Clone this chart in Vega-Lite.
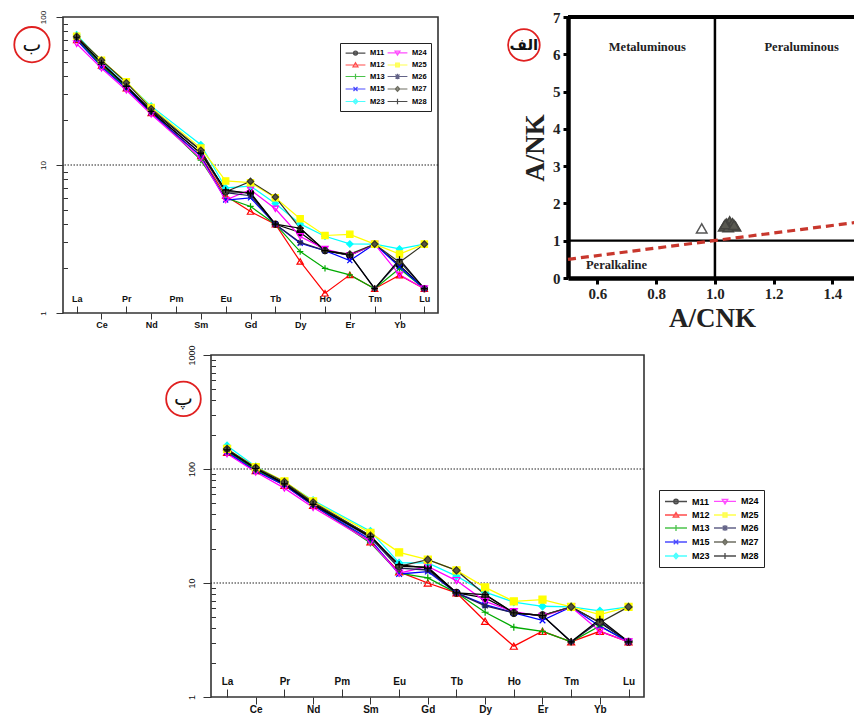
{
  "$schema": "https://vega.github.io/schema/vega-lite/v6.json",
  "background": "white",
  "padding": {"left": 9, "top": 9, "right": 0, "bottom": 0},
  "config": {
    "view": {"stroke": "#333333", "strokeWidth": 1.6},
    "font": "Liberation Sans",
    "axis": {"grid": false, "labelFont": "Liberation Sans", "labelFontWeight": "bold", "tickColor": "#333333", "labelColor": "#111111"}
  },
  "datasets": {
    "b": [
      {"s":"M11","z":57,"v":73},{"s":"M11","z":58,"v":48},{"s":"M11","z":59,"v":34},{"s":"M11","z":60,"v":23.5},{"s":"M11","z":62,"v":12.5},{"s":"M11","z":63,"v":6.6},{"s":"M11","z":64,"v":6.5},{"s":"M11","z":65,"v":3.98},{"s":"M11","z":66,"v":3.5},{"s":"M11","z":67,"v":2.64},{"s":"M11","z":68,"v":2.45},{"s":"M11","z":69,"v":2.92},{"s":"M11","z":70,"v":2.1},{"s":"M11","z":71,"v":1.46},
      {"s":"M12","z":57,"v":70},{"s":"M12","z":58,"v":47},{"s":"M12","z":59,"v":33},{"s":"M12","z":60,"v":22.5},{"s":"M12","z":62,"v":11.5},{"s":"M12","z":63,"v":6.2},{"s":"M12","z":64,"v":4.85},{"s":"M12","z":65,"v":3.98},{"s":"M12","z":66,"v":2.23},{"s":"M12","z":67,"v":1.36},{"s":"M12","z":68,"v":1.81},{"s":"M12","z":69,"v":1.46},{"s":"M12","z":70,"v":1.8},{"s":"M12","z":71,"v":1.46},
      {"s":"M13","z":57,"v":71},{"s":"M13","z":58,"v":47},{"s":"M13","z":59,"v":33.5},{"s":"M13","z":60,"v":23},{"s":"M13","z":62,"v":10.8},{"s":"M13","z":63,"v":6.0},{"s":"M13","z":64,"v":5.25},{"s":"M13","z":65,"v":3.98},{"s":"M13","z":66,"v":2.6},{"s":"M13","z":67,"v":2.0},{"s":"M13","z":68,"v":1.81},{"s":"M13","z":69,"v":1.46},{"s":"M13","z":70,"v":2.0},{"s":"M13","z":71,"v":1.46},
      {"s":"M15","z":57,"v":70},{"s":"M15","z":58,"v":46},{"s":"M15","z":59,"v":33},{"s":"M15","z":60,"v":22.5},{"s":"M15","z":62,"v":11.5},{"s":"M15","z":63,"v":5.8},{"s":"M15","z":64,"v":6.0},{"s":"M15","z":65,"v":3.98},{"s":"M15","z":66,"v":2.96},{"s":"M15","z":67,"v":2.64},{"s":"M15","z":68,"v":2.26},{"s":"M15","z":69,"v":2.92},{"s":"M15","z":70,"v":2.05},{"s":"M15","z":71,"v":1.46},
      {"s":"M23","z":57,"v":76},{"s":"M23","z":58,"v":50},{"s":"M23","z":59,"v":36},{"s":"M23","z":60,"v":25},{"s":"M23","z":62,"v":13.7},{"s":"M23","z":63,"v":7.0},{"s":"M23","z":64,"v":7.2},{"s":"M23","z":65,"v":5.5},{"s":"M23","z":66,"v":4.0},{"s":"M23","z":67,"v":3.3},{"s":"M23","z":68,"v":2.93},{"s":"M23","z":69,"v":2.92},{"s":"M23","z":70,"v":2.71},{"s":"M23","z":71,"v":2.92},
      {"s":"M24","z":57,"v":66},{"s":"M24","z":58,"v":45},{"s":"M24","z":59,"v":32},{"s":"M24","z":60,"v":22},{"s":"M24","z":62,"v":11.1},{"s":"M24","z":63,"v":5.8},{"s":"M24","z":64,"v":6.8},{"s":"M24","z":65,"v":5.06},{"s":"M24","z":66,"v":3.29},{"s":"M24","z":67,"v":2.7},{"s":"M24","z":68,"v":2.45},{"s":"M24","z":69,"v":2.92},{"s":"M24","z":70,"v":1.81},{"s":"M24","z":71,"v":1.46},
      {"s":"M25","z":57,"v":74},{"s":"M25","z":58,"v":51},{"s":"M25","z":59,"v":36.5},{"s":"M25","z":60,"v":24.5},{"s":"M25","z":62,"v":13},{"s":"M25","z":63,"v":7.8},{"s":"M25","z":64,"v":7.6},{"s":"M25","z":65,"v":6.0},{"s":"M25","z":66,"v":4.33},{"s":"M25","z":67,"v":3.34},{"s":"M25","z":68,"v":3.4},{"s":"M25","z":69,"v":2.92},{"s":"M25","z":70,"v":2.5},{"s":"M25","z":71,"v":2.92},
      {"s":"M26","z":57,"v":72},{"s":"M26","z":58,"v":49},{"s":"M26","z":59,"v":34.5},{"s":"M26","z":60,"v":23},{"s":"M26","z":62,"v":12},{"s":"M26","z":63,"v":6.5},{"s":"M26","z":64,"v":6.2},{"s":"M26","z":65,"v":3.98},{"s":"M26","z":66,"v":3.0},{"s":"M26","z":67,"v":2.64},{"s":"M26","z":68,"v":2.47},{"s":"M26","z":69,"v":1.46},{"s":"M26","z":70,"v":2.23},{"s":"M26","z":71,"v":1.46},
      {"s":"M27","z":57,"v":74},{"s":"M27","z":58,"v":51},{"s":"M27","z":59,"v":36},{"s":"M27","z":60,"v":24},{"s":"M27","z":62,"v":12.6},{"s":"M27","z":63,"v":6.6},{"s":"M27","z":64,"v":7.75},{"s":"M27","z":65,"v":6.07},{"s":"M27","z":66,"v":3.74},{"s":"M27","z":67,"v":2.64},{"s":"M27","z":68,"v":2.5},{"s":"M27","z":69,"v":2.92},{"s":"M27","z":70,"v":2.2},{"s":"M27","z":71,"v":2.92},
      {"s":"M28","z":57,"v":73},{"s":"M28","z":58,"v":49},{"s":"M28","z":59,"v":34},{"s":"M28","z":60,"v":23},{"s":"M28","z":62,"v":12},{"s":"M28","z":63,"v":6.8},{"s":"M28","z":64,"v":6.4},{"s":"M28","z":65,"v":3.98},{"s":"M28","z":66,"v":3.74},{"s":"M28","z":67,"v":2.64},{"s":"M28","z":68,"v":2.47},{"s":"M28","z":69,"v":1.46},{"s":"M28","z":70,"v":2.3},{"s":"M28","z":71,"v":1.46}
    ],
    "c": [
      {"s":"M11","z":57,"v":145},{"s":"M11","z":58,"v":100},{"s":"M11","z":59,"v":76},{"s":"M11","z":60,"v":50},{"s":"M11","z":62,"v":26},{"s":"M11","z":63,"v":14},{"s":"M11","z":64,"v":13.8},{"s":"M11","z":65,"v":8.2},{"s":"M11","z":66,"v":7.4},{"s":"M11","z":67,"v":5.47},{"s":"M11","z":68,"v":5.2},{"s":"M11","z":69,"v":6.17},{"s":"M11","z":70,"v":4.5},{"s":"M11","z":71,"v":3.05},
      {"s":"M12","z":57,"v":140},{"s":"M12","z":58,"v":97},{"s":"M12","z":59,"v":72},{"s":"M12","z":60,"v":48},{"s":"M12","z":62,"v":23},{"s":"M12","z":63,"v":12.5},{"s":"M12","z":64,"v":10.0},{"s":"M12","z":65,"v":8.2},{"s":"M12","z":66,"v":4.62},{"s":"M12","z":67,"v":2.79},{"s":"M12","z":68,"v":3.77},{"s":"M12","z":69,"v":3.05},{"s":"M12","z":70,"v":3.77},{"s":"M12","z":71,"v":3.05},
      {"s":"M13","z":57,"v":142},{"s":"M13","z":58,"v":98},{"s":"M13","z":59,"v":73},{"s":"M13","z":60,"v":49},{"s":"M13","z":62,"v":22.5},{"s":"M13","z":63,"v":12.2},{"s":"M13","z":64,"v":11.1},{"s":"M13","z":65,"v":8.2},{"s":"M13","z":66,"v":5.54},{"s":"M13","z":67,"v":4.09},{"s":"M13","z":68,"v":3.77},{"s":"M13","z":69,"v":3.05},{"s":"M13","z":70,"v":4.2},{"s":"M13","z":71,"v":3.05},
      {"s":"M15","z":57,"v":140},{"s":"M15","z":58,"v":96},{"s":"M15","z":59,"v":72},{"s":"M15","z":60,"v":48},{"s":"M15","z":62,"v":24},{"s":"M15","z":63,"v":12.0},{"s":"M15","z":64,"v":12.6},{"s":"M15","z":65,"v":8.2},{"s":"M15","z":66,"v":6.46},{"s":"M15","z":67,"v":5.47},{"s":"M15","z":68,"v":4.7},{"s":"M15","z":69,"v":6.17},{"s":"M15","z":70,"v":4.18},{"s":"M15","z":71,"v":3.05},
      {"s":"M23","z":57,"v":160},{"s":"M23","z":58,"v":105},{"s":"M23","z":59,"v":77},{"s":"M23","z":60,"v":53},{"s":"M23","z":62,"v":28.5},{"s":"M23","z":63,"v":15},{"s":"M23","z":64,"v":15},{"s":"M23","z":65,"v":11.5},{"s":"M23","z":66,"v":8.3},{"s":"M23","z":67,"v":6.8},{"s":"M23","z":68,"v":6.25},{"s":"M23","z":69,"v":6.17},{"s":"M23","z":70,"v":5.7},{"s":"M23","z":71,"v":6.17},
      {"s":"M24","z":57,"v":136},{"s":"M24","z":58,"v":94},{"s":"M24","z":59,"v":68},{"s":"M24","z":60,"v":46},{"s":"M24","z":62,"v":23},{"s":"M24","z":63,"v":12.2},{"s":"M24","z":64,"v":14},{"s":"M24","z":65,"v":10.5},{"s":"M24","z":66,"v":6.9},{"s":"M24","z":67,"v":5.6},{"s":"M24","z":68,"v":5.1},{"s":"M24","z":69,"v":6.17},{"s":"M24","z":70,"v":3.77},{"s":"M24","z":71,"v":3.05},
      {"s":"M25","z":57,"v":150},{"s":"M25","z":58,"v":104},{"s":"M25","z":59,"v":78},{"s":"M25","z":60,"v":52},{"s":"M25","z":62,"v":27.5},{"s":"M25","z":63,"v":18.6},{"s":"M25","z":64,"v":16},{"s":"M25","z":65,"v":12.9},{"s":"M25","z":66,"v":9.16},{"s":"M25","z":67,"v":6.9},{"s":"M25","z":68,"v":7.15},{"s":"M25","z":69,"v":6.17},{"s":"M25","z":70,"v":5.28},{"s":"M25","z":71,"v":6.17},
      {"s":"M26","z":57,"v":148},{"s":"M26","z":58,"v":101},{"s":"M26","z":59,"v":74},{"s":"M26","z":60,"v":49},{"s":"M26","z":62,"v":25},{"s":"M26","z":63,"v":13.5},{"s":"M26","z":64,"v":13},{"s":"M26","z":65,"v":8.2},{"s":"M26","z":66,"v":6.3},{"s":"M26","z":67,"v":5.47},{"s":"M26","z":68,"v":5.18},{"s":"M26","z":69,"v":3.05},{"s":"M26","z":70,"v":4.62},{"s":"M26","z":71,"v":3.05},
      {"s":"M27","z":57,"v":150},{"s":"M27","z":58,"v":103},{"s":"M27","z":59,"v":77},{"s":"M27","z":60,"v":51},{"s":"M27","z":62,"v":26},{"s":"M27","z":63,"v":14},{"s":"M27","z":64,"v":16},{"s":"M27","z":65,"v":12.9},{"s":"M27","z":66,"v":7.9},{"s":"M27","z":67,"v":5.47},{"s":"M27","z":68,"v":5.2},{"s":"M27","z":69,"v":6.17},{"s":"M27","z":70,"v":4.5},{"s":"M27","z":71,"v":6.17},
      {"s":"M28","z":57,"v":147},{"s":"M28","z":58,"v":101},{"s":"M28","z":59,"v":74},{"s":"M28","z":60,"v":49},{"s":"M28","z":62,"v":25.5},{"s":"M28","z":63,"v":14.5},{"s":"M28","z":64,"v":13.5},{"s":"M28","z":65,"v":8.2},{"s":"M28","z":66,"v":7.9},{"s":"M28","z":67,"v":5.47},{"s":"M28","z":68,"v":5.18},{"s":"M28","z":69,"v":3.05},{"s":"M28","z":70,"v":4.8},{"s":"M28","z":71,"v":3.05}
    ]
  },
  "spacing": 13,
  "vconcat": [
    {
      "spacing": 130,
      "bounds": "flush",
      "hconcat": [
        {
          "width": 375,
          "height": 296,
          "layer": [
            {
              "data": {"values": [{"v": 10}]},
              "mark": {"type": "rule", "strokeDash": [1.5, 1.5], "strokeWidth": 1.2, "color": "#222222"},
              "encoding": {"y": {"field": "v", "type": "quantitative", "axis": null, "scale": {"type": "log", "domain": [1, 100], "nice": false}}}
            },
            {
              "data": {"name": "b"},
              "mark": {"type": "line", "strokeWidth": 1.2},
              "encoding": {
                "x": {"field": "z", "type": "quantitative", "scale": {"domain": [56.45, 71.55], "nice": false, "zero": false},
                  "axis": {"orient": "bottom", "title": null, "domain": false, "values": [57, 59, 61, 63, 65, 67, 69, 71], "labelExpr": "['La','Ce','Pr','Nd','Pm','Sm','Eu','Gd','Tb','Dy','Ho','Er','Tm','Yb','Lu'][datum.value-57]", "tickSize": -7, "labelPadding": -3, "labelBaseline": "bottom", "labelFontSize": 9, "labelFlush": false}},
                "y": {"field": "v", "type": "quantitative", "scale": {"type": "log", "domain": [1, 100], "nice": false},
                  "axis": {"orient": "left", "title": null, "domain": false, "values": [1, 10, 100], "format": "d", "tickSize": 7, "labelAngle": 270, "labelAlign": "center", "labelBaseline": "bottom", "labelPadding": 9, "labelFontSize": 8, "labelFontWeight": "normal", "labelFlush": false}},
                "color": {"field": "s", "type": "nominal", "legend": null,
                  "scale": {"domain": ["M11","M12","M13","M15","M23","M24","M25","M26","M27","M28"], "range": ["#000000","#ff0000","#00aa00","#0000ff","#00ffff","#ff00ff","#ffff00","#222255","#333322","#000000"]}}
              }
            },
            {
              "data": {"name": "b"},
              "mark": {"type": "point", "filled": false, "strokeWidth": 1.2, "size": 40, "opacity": 1},
              "encoding": {
                "x": {"field": "z", "type": "quantitative", "scale": {"domain": [56.45, 71.55], "nice": false, "zero": false},
                  "axis": {"orient": "bottom", "title": null, "domain": false, "values": [58, 60, 62, 64, 66, 68, 70], "labelExpr": "['La','Ce','Pr','Nd','Pm','Sm','Eu','Gd','Tb','Dy','Ho','Er','Tm','Yb','Lu'][datum.value-57]", "tickSize": 6, "labelPadding": 1, "labelBaseline": "top", "labelFontSize": 9, "labelFlush": false}},
                "y": {"field": "v", "type": "quantitative", "scale": {"type": "log", "domain": [1, 100], "nice": false},
                  "axis": {"orient": "left", "title": null, "domain": false, "labels": false, "values": [2,3,4,5,6,7,8,9,20,30,40,50,60,70,80,90], "tickSize": -4.5}},
                "color": {"field": "s", "type": "nominal", "legend": null,
                  "scale": {"domain": ["M11","M12","M13","M15","M23","M24","M25","M26","M27","M28"], "range": ["#000000","#ff0000","#00aa00","#0000ff","#00ffff","#ff00ff","#ffff00","#222255","#333322","#000000"]}},
                "fill": {"field": "s", "type": "nominal", "legend": null,
                  "scale": {"domain": ["M11","M12","M13","M15","M23","M24","M25","M26","M27","M28"], "range": ["#000000","transparent","transparent","transparent","#00ffff","transparent","#ffff00","transparent","#555544","transparent"]}},
                "shape": {"field": "s", "type": "nominal", "legend": null,
                  "scale": {"domain": ["M11","M12","M13","M15","M23","M24","M25","M26","M27","M28"], "range": ["circle","triangle-up","M-1,0H1M0,-1V1","M-0.8,-0.8L0.8,0.8M-0.8,0.8L0.8,-0.8","diamond","triangle-down","square","M-1,0H1M0,-1V1M-0.7,-0.7L0.7,0.7M-0.7,0.7L0.7,-0.7","diamond","M-1,0H1M0,-1V1"]}}
              }
            },
            {
              "data": {"values": []},
              "mark": {"type": "point", "filled": false, "strokeWidth": 1.2},
              "encoding": {
                "color": {"field": "s", "type": "nominal",
                  "scale": {"domain": ["M11","M12","M13","M15","M23","M24","M25","M26","M27","M28"], "range": ["#000000","#ff0000","#00aa00","#0000ff","#00ffff","#ff00ff","#ffff00","#222255","#333322","#000000"]},
                  "legend": {"orient": "none", "legendX": 277, "legendY": 26, "columns": 2, "title": null, "strokeColor": "#222222", "padding": 4, "symbolSize": 81, "symbolStrokeWidth": 1.2, "symbolOffset": 6, "labelOffset": 9, "labelFontSize": 7.5, "labelFontWeight": "bold", "rowPadding": 1.5, "columnPadding": 0}},
                "fill": {"field": "s", "type": "nominal",
                  "scale": {"domain": ["M11","M12","M13","M15","M23","M24","M25","M26","M27","M28"], "range": ["#000000","transparent","transparent","transparent","#00ffff","transparent","#ffff00","transparent","#555544","transparent"]}},
                "shape": {"field": "s", "type": "nominal",
                  "scale": {"domain": ["M11","M12","M13","M15","M23","M24","M25","M26","M27","M28"], "range": [
                    "M-2.2,0H2.2M0.45,0A0.45,0.45,0,1,1,-0.45,0A0.45,0.45,0,1,1,0.45,0Z",
                    "M-2.2,0H2.2M-0.55,0.4L0.55,0.4L0,-0.5Z",
                    "M-2.2,0H2.2M0,-0.6V0.6",
                    "M-2.2,0H2.2M-0.45,-0.45L0.45,0.45M-0.45,0.45L0.45,-0.45",
                    "M-2.2,0H2.2M0,-0.55L0.5,0L0,0.55L-0.5,0Z",
                    "M-2.2,0H2.2M-0.55,-0.4L0.55,-0.4L0,0.5Z",
                    "M-2.2,0H2.2M-0.4,-0.4H0.4V0.4H-0.4Z",
                    "M-2.2,0H2.2M0,-0.6V0.6M-0.45,-0.45L0.45,0.45M-0.45,0.45L0.45,-0.45",
                    "M-2.2,0H2.2M0,-0.55L0.5,0L0,0.55L-0.5,0Z",
                    "M-2.2,0H2.2M0,-0.6V0.6"]}}
              }
            },
            {
              "data": {"values": [{"z": 55.2, "v": 65, "t": "ب"}]},
              "mark": {"type": "point", "shape": "circle", "size": 1250, "filled": false, "color": "#e02020", "strokeWidth": 1.8, "opacity": 1},
              "encoding": {
                "x": {"field": "z", "type": "quantitative", "axis": null, "scale": {"domain": [56.45, 71.55], "nice": false, "zero": false}},
                "y": {"field": "v", "type": "quantitative", "axis": null, "scale": {"type": "log", "domain": [1, 100], "nice": false}}
              }
            },
            {
              "data": {"values": [{"z": 55.2, "v": 65, "t": "ب"}]},
              "mark": {"type": "text", "font": "DejaVu Sans", "fontSize": 20, "color": "#111111", "baseline": "middle", "align": "center"},
              "encoding": {
                "x": {"field": "z", "type": "quantitative", "axis": null, "scale": {"domain": [56.45, 71.55], "nice": false, "zero": false}},
                "y": {"field": "v", "type": "quantitative", "axis": null, "scale": {"type": "log", "domain": [1, 100], "nice": false}},
                "text": {"field": "t"}
              }
            }
          ],
          "resolve": {"axis": {"x": "independent", "y": "independent"}, "scale": {"color": "independent", "fill": "independent", "shape": "independent"}}
        },
        {
          "width": 288,
          "height": 261,
          "view": {"stroke": null},
          "layer": [
            {
              "data": {"values": [{"y": 7}]},
              "mark": {"type": "rule", "strokeWidth": 4, "color": "#000000"},
              "encoding": {"y": {"field": "y", "type": "quantitative", "axis": null, "scale": {"domain": [0, 7], "nice": false}}}
            },
            {
              "data": {"values": [{"x": 1.0}]},
              "mark": {"type": "rule", "strokeWidth": 2.5, "color": "#000000"},
              "encoding": {"x": {"field": "x", "type": "quantitative", "axis": null, "scale": {"domain": [0.5, 1.48], "nice": false, "zero": false}}}
            },
            {
              "data": {"values": [{"y": 1.0}]},
              "mark": {"type": "rule", "strokeWidth": 2.2, "color": "#000000"},
              "encoding": {"y": {"field": "y", "type": "quantitative", "axis": null, "scale": {"domain": [0, 7], "nice": false}}}
            },
            {
              "data": {"values": [{"x": 0.5, "y": 0.5}, {"x": 1.48, "y": 1.49}]},
              "mark": {"type": "line", "strokeWidth": 3.2, "strokeDash": [8, 5], "color": "#c8372d"},
              "encoding": {
                "x": {"field": "x", "type": "quantitative", "axis": null, "scale": {"domain": [0.5, 1.48], "nice": false, "zero": false}},
                "y": {"field": "y", "type": "quantitative", "axis": null, "scale": {"domain": [0, 7], "nice": false}}
              }
            },
            {
              "data": {"values": [
                {"x": 0.955, "y": 1.33, "k": "open"},
                {"x": 1.03, "y": 1.38, "k": "fill"}, {"x": 1.04, "y": 1.46, "k": "fill"}, {"x": 1.05, "y": 1.52, "k": "fill"},
                {"x": 1.055, "y": 1.40, "k": "fill"}, {"x": 1.06, "y": 1.47, "k": "fill"}, {"x": 1.07, "y": 1.38, "k": "fill"},
                {"x": 1.045, "y": 1.36, "k": "fill"}, {"x": 1.035, "y": 1.44, "k": "fill"}, {"x": 1.065, "y": 1.42, "k": "fill"}
              ]},
              "mark": {"type": "point", "shape": "triangle-up", "size": 110, "strokeWidth": 1.5, "opacity": 1},
              "encoding": {
                "x": {"field": "x", "type": "quantitative", "scale": {"domain": [0.5, 1.48], "nice": false, "zero": false},
                  "axis": {"orient": "bottom", "title": "A/CNK", "values": [0.6, 0.8, 1.0, 1.2, 1.4], "format": ".1f", "domain": true, "domainWidth": 4.5, "domainColor": "#000000", "tickColor": "#000000", "tickWidth": 3, "tickSize": 6, "labelPadding": 2, "labelFont": "Liberation Serif", "labelFontSize": 15, "labelFontWeight": "bold", "labelColor": "#222222", "titleFont": "Liberation Serif", "titleFontSize": 27, "titleFontWeight": "bold", "titleColor": "#222222", "titlePadding": 4, "labelFlush": false}},
                "y": {"field": "y", "type": "quantitative", "scale": {"domain": [0, 7], "nice": false},
                  "axis": {"orient": "left", "title": "A/NK", "values": [0, 1, 2, 3, 4, 5, 6, 7], "domain": true, "domainWidth": 4.5, "domainColor": "#000000", "tickColor": "#000000", "tickWidth": 3, "tickSize": 5, "labelPadding": 3, "labelFont": "Liberation Serif", "labelFontSize": 15, "labelFontWeight": "bold", "labelColor": "#222222", "titleFont": "Liberation Serif", "titleFontSize": 27, "titleFontWeight": "bold", "titleColor": "#222222", "titlePadding": 3, "labelFlush": false}},
                "fill": {"field": "k", "type": "nominal", "legend": null, "scale": {"domain": ["open", "fill"], "range": ["transparent", "#5a5a52"]}},
                "stroke": {"field": "k", "type": "nominal", "legend": null, "scale": {"domain": ["open", "fill"], "range": ["#555555", "#444440"]}}
              }
            },
            {
              "data": {"values": [
                {"x": 0.77, "y": 6.2, "t": "Metaluminous"},
                {"x": 1.295, "y": 6.2, "t": "Peraluminous"},
                {"x": 0.665, "y": 0.34, "t": "Peralkaline"}
              ]},
              "mark": {"type": "text", "font": "Liberation Serif", "fontSize": 12.5, "fontWeight": "bold", "color": "#222222", "baseline": "middle", "align": "center"},
              "encoding": {
                "x": {"field": "x", "type": "quantitative", "axis": null, "scale": {"domain": [0.5, 1.48], "nice": false, "zero": false}},
                "y": {"field": "y", "type": "quantitative", "axis": null, "scale": {"domain": [0, 7], "nice": false}},
                "text": {"field": "t"}
              }
            },
            {
              "data": {"values": [{"x": 0.35, "y": 6.25, "t": "الف"}]},
              "mark": {"type": "point", "shape": "circle", "size": 1000, "filled": false, "color": "#e02020", "strokeWidth": 1.8, "opacity": 1},
              "encoding": {
                "x": {"field": "x", "type": "quantitative", "axis": null, "scale": {"domain": [0.5, 1.48], "nice": false, "zero": false}},
                "y": {"field": "y", "type": "quantitative", "axis": null, "scale": {"domain": [0, 7], "nice": false}}
              }
            },
            {
              "data": {"values": [{"x": 0.35, "y": 6.25, "t": "الف"}]},
              "mark": {"type": "text", "font": "DejaVu Sans", "fontSize": 15, "fontWeight": "bold", "color": "#111111", "baseline": "middle", "align": "center"},
              "encoding": {
                "x": {"field": "x", "type": "quantitative", "axis": null, "scale": {"domain": [0.5, 1.48], "nice": false, "zero": false}},
                "y": {"field": "y", "type": "quantitative", "axis": null, "scale": {"domain": [0, 7], "nice": false}},
                "text": {"field": "t"}
              }
            }
          ],
          "resolve": {"axis": {"x": "independent", "y": "independent"}}
        }
      ]
    },
    {
      "spacing": 0,
      "bounds": "flush",
      "hconcat": [
        {
          "width": 148,
          "height": 10,
          "view": {"stroke": null},
          "data": {"values": []},
          "mark": {"type": "text"}
        },
        {
          "width": 433,
          "height": 342,
          "layer": [
            {
              "data": {"values": [{"v": 10}, {"v": 100}]},
              "mark": {"type": "rule", "strokeDash": [1.5, 1.5], "strokeWidth": 1.2, "color": "#222222"},
              "encoding": {"y": {"field": "v", "type": "quantitative", "axis": null, "scale": {"type": "log", "domain": [1, 1000], "nice": false}}}
            },
            {
              "data": {"name": "c"},
              "mark": {"type": "line", "strokeWidth": 1.3},
              "encoding": {
                "x": {"field": "z", "type": "quantitative", "scale": {"domain": [56.44, 71.54], "nice": false, "zero": false},
                  "axis": {"orient": "bottom", "title": null, "domain": false, "values": [57, 59, 61, 63, 65, 67, 69, 71], "labelExpr": "['La','Ce','Pr','Nd','Pm','Sm','Eu','Gd','Tb','Dy','Ho','Er','Tm','Yb','Lu'][datum.value-57]", "tickSize": -8, "labelPadding": -3, "labelBaseline": "bottom", "labelFontSize": 10, "labelFlush": false}},
                "y": {"field": "v", "type": "quantitative", "scale": {"type": "log", "domain": [1, 1000], "nice": false},
                  "axis": {"orient": "left", "title": null, "domain": false, "values": [1, 10, 100, 1000], "format": "d", "tickSize": 8, "labelAngle": 270, "labelAlign": "center", "labelBaseline": "bottom", "labelPadding": 7, "labelFontSize": 9, "labelFontWeight": "normal", "labelFlush": false}},
                "color": {"field": "s", "type": "nominal", "legend": null,
                  "scale": {"domain": ["M11","M12","M13","M15","M23","M24","M25","M26","M27","M28"], "range": ["#000000","#ff0000","#00aa00","#0000ff","#00ffff","#ff00ff","#ffff00","#222255","#333322","#000000"]}}
              }
            },
            {
              "data": {"name": "c"},
              "mark": {"type": "point", "filled": false, "strokeWidth": 1.2, "size": 50, "opacity": 1},
              "encoding": {
                "x": {"field": "z", "type": "quantitative", "scale": {"domain": [56.44, 71.54], "nice": false, "zero": false},
                  "axis": {"orient": "bottom", "title": null, "domain": false, "values": [58, 60, 62, 64, 66, 68, 70], "labelExpr": "['La','Ce','Pr','Nd','Pm','Sm','Eu','Gd','Tb','Dy','Ho','Er','Tm','Yb','Lu'][datum.value-57]", "tickSize": 7, "labelPadding": 0, "labelBaseline": "top", "labelFontSize": 10, "labelFlush": false}},
                "y": {"field": "v", "type": "quantitative", "scale": {"type": "log", "domain": [1, 1000], "nice": false},
                  "axis": {"orient": "left", "title": null, "domain": false, "labels": false, "values": [2,3,4,5,6,7,8,9,20,30,40,50,60,70,80,90,200,300,400,500,600,700,800,900], "tickSize": -4.5}},
                "color": {"field": "s", "type": "nominal", "legend": null,
                  "scale": {"domain": ["M11","M12","M13","M15","M23","M24","M25","M26","M27","M28"], "range": ["#000000","#ff0000","#00aa00","#0000ff","#00ffff","#ff00ff","#ffff00","#222255","#333322","#000000"]}},
                "fill": {"field": "s", "type": "nominal", "legend": null,
                  "scale": {"domain": ["M11","M12","M13","M15","M23","M24","M25","M26","M27","M28"], "range": ["#000000","transparent","transparent","transparent","#00ffff","transparent","#ffff00","transparent","#555544","transparent"]}},
                "shape": {"field": "s", "type": "nominal", "legend": null,
                  "scale": {"domain": ["M11","M12","M13","M15","M23","M24","M25","M26","M27","M28"], "range": ["circle","triangle-up","M-1,0H1M0,-1V1","M-0.8,-0.8L0.8,0.8M-0.8,0.8L0.8,-0.8","diamond","triangle-down","square","M-1,0H1M0,-1V1M-0.7,-0.7L0.7,0.7M-0.7,0.7L0.7,-0.7","diamond","M-1,0H1M0,-1V1"]}}
              }
            },
            {
              "data": {"values": []},
              "mark": {"type": "point", "filled": false, "strokeWidth": 1.2},
              "encoding": {
                "color": {"field": "s", "type": "nominal",
                  "scale": {"domain": ["M11","M12","M13","M15","M23","M24","M25","M26","M27","M28"], "range": ["#000000","#ff0000","#00aa00","#0000ff","#00ffff","#ff00ff","#ffff00","#222255","#333322","#000000"]},
                  "legend": {"orient": "none", "legendX": 448, "legendY": 135, "columns": 2, "title": null, "strokeColor": "#222222", "padding": 5, "symbolSize": 100, "symbolStrokeWidth": 1.3, "symbolOffset": 6, "labelOffset": 10, "labelFontSize": 9, "labelFontWeight": "bold", "rowPadding": 2, "columnPadding": 1}},
                "fill": {"field": "s", "type": "nominal",
                  "scale": {"domain": ["M11","M12","M13","M15","M23","M24","M25","M26","M27","M28"], "range": ["#000000","transparent","transparent","transparent","#00ffff","transparent","#ffff00","transparent","#555544","transparent"]}},
                "shape": {"field": "s", "type": "nominal",
                  "scale": {"domain": ["M11","M12","M13","M15","M23","M24","M25","M26","M27","M28"], "range": [
                    "M-2.2,0H2.2M0.45,0A0.45,0.45,0,1,1,-0.45,0A0.45,0.45,0,1,1,0.45,0Z",
                    "M-2.2,0H2.2M-0.55,0.4L0.55,0.4L0,-0.5Z",
                    "M-2.2,0H2.2M0,-0.6V0.6",
                    "M-2.2,0H2.2M-0.45,-0.45L0.45,0.45M-0.45,0.45L0.45,-0.45",
                    "M-2.2,0H2.2M0,-0.55L0.5,0L0,0.55L-0.5,0Z",
                    "M-2.2,0H2.2M-0.55,-0.4L0.55,-0.4L0,0.5Z",
                    "M-2.2,0H2.2M-0.4,-0.4H0.4V0.4H-0.4Z",
                    "M-2.2,0H2.2M0,-0.6V0.6M-0.45,-0.45L0.45,0.45M-0.45,0.45L0.45,-0.45",
                    "M-2.2,0H2.2M0,-0.55L0.5,0L0,0.55L-0.5,0Z",
                    "M-2.2,0H2.2M0,-0.6V0.6"]}}
              }
            },
            {
              "data": {"values": [{"z": 55.48, "v": 412, "t": "پ"}]},
              "mark": {"type": "point", "shape": "circle", "size": 1200, "filled": false, "color": "#e02020", "strokeWidth": 1.8, "opacity": 1},
              "encoding": {
                "x": {"field": "z", "type": "quantitative", "axis": null, "scale": {"domain": [56.44, 71.54], "nice": false, "zero": false}},
                "y": {"field": "v", "type": "quantitative", "axis": null, "scale": {"type": "log", "domain": [1, 1000], "nice": false}}
              }
            },
            {
              "data": {"values": [{"z": 55.48, "v": 412, "t": "پ"}]},
              "mark": {"type": "text", "font": "DejaVu Sans", "fontSize": 20, "color": "#111111", "baseline": "middle", "align": "center"},
              "encoding": {
                "x": {"field": "z", "type": "quantitative", "axis": null, "scale": {"domain": [56.44, 71.54], "nice": false, "zero": false}},
                "y": {"field": "v", "type": "quantitative", "axis": null, "scale": {"type": "log", "domain": [1, 1000], "nice": false}},
                "text": {"field": "t"}
              }
            }
          ],
          "resolve": {"axis": {"x": "independent", "y": "independent"}, "scale": {"color": "independent", "fill": "independent", "shape": "independent"}}
        }
      ]
    }
  ]
}
